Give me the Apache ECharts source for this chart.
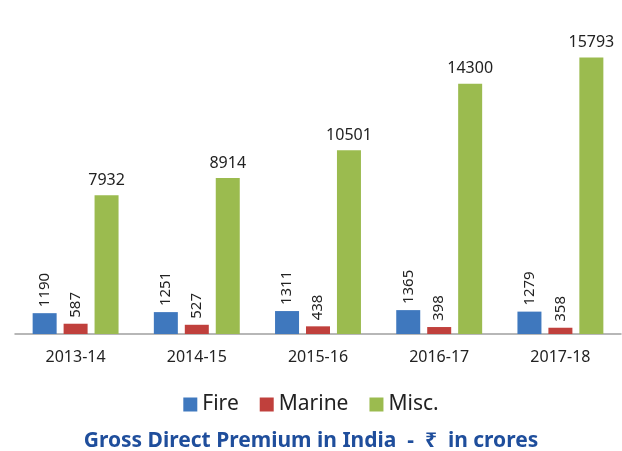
<!DOCTYPE html>
<html>
<head>
<meta charset="utf-8">
<script src="https://cdn.jsdelivr.net/npm/echarts@6/dist/echarts.min.js"></script>
<style>
  html, body { margin: 0; padding: 0; background: #fff; }
  #chart { width: 622px; height: 451px; }
</style>
</head>
<body>
<div id="chart"></div>
<script>
// Gross direct premium data (Rs crores)
const years = ['2013-14', '2014-15', '2015-16', '2016-17', '2017-18'];
const fire = [1190, 1251, 1311, 1365, 1279];
const marine = [587, 527, 438, 398, 358];
const misc = [7932, 8914, 10501, 14300, 15793];

const FONT = '"Noto Sans", "Open Sans", sans-serif';

const chart = echarts.init(document.getElementById('chart'));

// rotated labels for the small bars
const vLabel = {
    show: true,
    position: 'top',
    rotate: 90,
    align: 'left',
    verticalAlign: 'middle',
    distance: 6,
    color: '#222',
    fontSize: 15,
    fontFamily: FONT
};

const option = {
    animation: false,
    title: {
        text: 'Gross Direct Premium in India  -  \u20B9  in crores',
        left: 'center',
        top: 426,
        textStyle: {
            color: '#1f4e9c',
            fontSize: 21,
            fontWeight: 'bold',
            fontFamily: FONT
        }
    },
    legend: {
        data: ['Fire', 'Marine', 'Misc.'],
        top: 389,
        left: 'center',
        icon: 'rect',
        itemWidth: 14,
        itemHeight: 14,
        itemGap: 21,
        textStyle: { color: '#222', fontSize: 21, fontFamily: FONT }
    },
    grid: {
        left: 15,
        right: 1,
        top: 19,
        bottom: 451 - 334
    },
    xAxis: {
        type: 'category',
        data: years,
        axisLine: { lineStyle: { color: '#a0a0a0', width: 1.5 } },
        axisTick: { show: false },
        axisLabel: { color: '#222', fontSize: 16, margin: 15, fontFamily: FONT }
    },
    yAxis: {
        type: 'value',
        min: 0,
        max: 18000,
        show: false,
        splitLine: { show: false }
    },
    series: [
        {
            name: 'Fire',
            type: 'bar',
            data: fire,
            barWidth: 24,
            barGap: '29%',
            itemStyle: { color: '#3f78be' },
            label: vLabel
        },
        {
            name: 'Marine',
            type: 'bar',
            data: marine,
            barWidth: 24,
            itemStyle: { color: '#c0403c' },
            label: vLabel
        },
        {
            name: 'Misc.',
            type: 'bar',
            data: misc,
            barWidth: 24,
            itemStyle: { color: '#9bbb4f' },
            label: {
                show: true,
                position: 'top',
                distance: 7,
                color: '#222',
                fontSize: 16,
                fontFamily: FONT
            }
        }
    ]
};

chart.setOption(option);
</script>
</body>
</html>
